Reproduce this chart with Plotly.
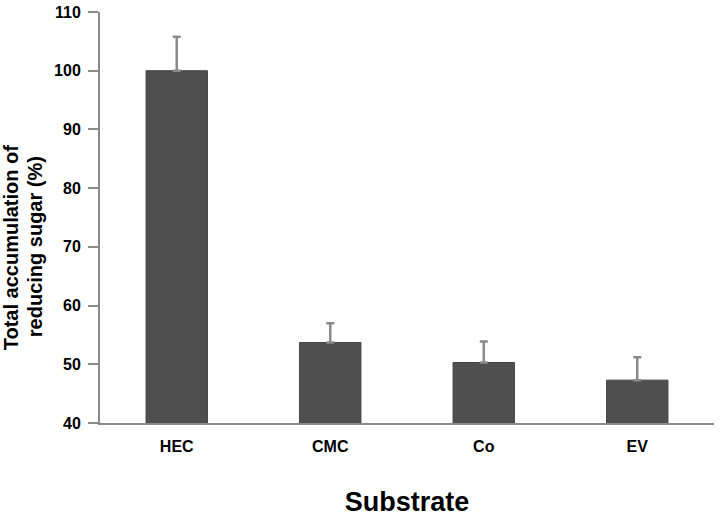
import plotly.graph_objects as go

# Substrates and measured values
substrates = ["HEC", "CMC", "Co", "EV"]
reducing_sugar = [100.0, 53.7, 50.3, 47.3]
error_up = [5.8, 3.3, 3.6, 3.9]
y_title_lines = ["Total accumulation of", "reducing sugar (%)"]

fig = go.Figure(go.Bar(
    x=substrates,
    y=reducing_sugar,
    width=0.4,
    marker=dict(color="#4f4f4f", line=dict(color="#444444", width=1)),
    error_y=dict(type="data", array=error_up, symmetric=False, arrayminus=[0] * 4,
                 color="#8a8a8a", thickness=2.5, width=4),
))

fig.update_layout(
    width=720, height=517,
    margin=dict(l=100, r=6, t=12, b=94),
    plot_bgcolor="white", paper_bgcolor="white",
    font=dict(family="Liberation Sans, Arial", color="black"),
    showlegend=False,
    bargap=0.6,
)

fig.update_yaxes(
    automargin=False,
    range=[40, 110], dtick=10,
    showline=True, linecolor="#8a8a8a", linewidth=2,
    ticks="outside", ticklen=10, tickcolor="#8a8a8a", tickwidth=2,
    ticklabelstandoff=4,
    showgrid=False, zeroline=False,
    tickfont=dict(size=16, weight="bold"),
)

# y title: two tight lines, a bit below the axis centre, so use annotations
for xpos, line in zip([-0.1447, -0.1057], y_title_lines):
    fig.add_annotation(
        text=line, textangle=-90, showarrow=False,
        xref="paper", yref="paper", x=xpos, y=0.428,
        xanchor="center", yanchor="middle",
        font=dict(size=20, weight="bold"),
    )

fig.update_xaxes(
    automargin=False,
    showline=True, linecolor="#8a8a8a", linewidth=2,
    ticks="", showgrid=False,
    ticklabelstandoff=8,
    tickfont=dict(size=16, weight="bold"),
    title=dict(text="Substrate", font=dict(size=27, weight="bold"), standoff=43),
)

# drop the default page margin so the figure fills the window exactly
fig.write_html("out.html", config={"displayModeBar": False},
               post_script="document.body.style.margin='0';")
